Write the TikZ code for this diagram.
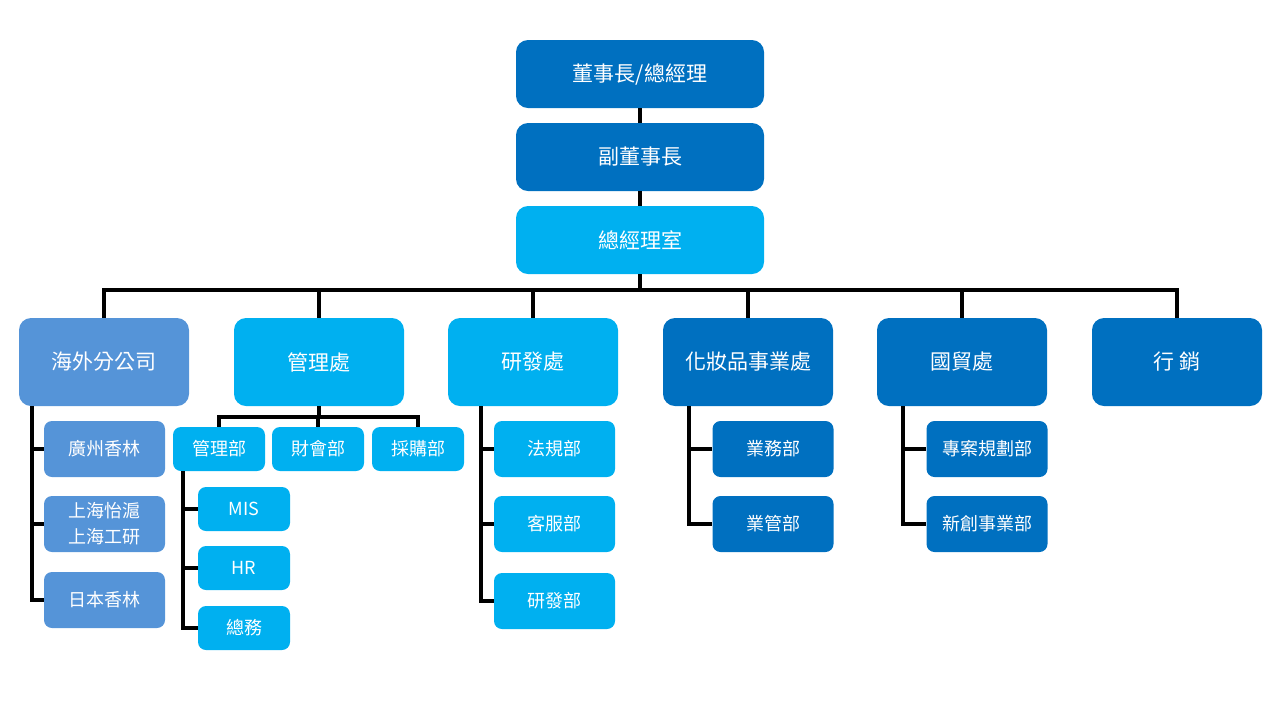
\documentclass[tikz,border=0pt]{standalone}
\usepackage{fontspec}
\setmainfont{Noto Sans CJK TC}
\usepackage{tikz}
\definecolor{DeepBlue}{HTML}{0070C0}
\definecolor{SkyBlue}{HTML}{00B0F0}
\definecolor{MidBlue}{HTML}{5594D8}

\begin{document}
\begin{tikzpicture}[x=0.5pt, y=-0.5pt,
      unit/.style={rounded corners=6pt, text=white, inner sep=0pt,
         align=center, font=\fontsize{10.5}{12}\selectfont},
      big/.style={unit, minimum width=124pt, minimum height=34pt},
      div/.style={unit, minimum width=85pt, minimum height=44pt},
      sub/.style={unit, rounded corners=4pt, minimum width=60.5pt,
         minimum height=28pt, font=\fontsize{9}{13}\selectfont},
      small/.style={sub, minimum width=46pt, minimum height=22pt},
      link/.style={line width=2pt, line join=miter}]
      \useasboundingbox (0,0) rectangle (1280,720);

      % top of the chart
      \node (chair) at (640,74) [big, fill=DeepBlue] {董事長/總經理};
      \node (vice) at (640,157) [big, fill=DeepBlue] {副董事長};
      \node (office) at (640,240) [big, fill=SkyBlue] {總經理室};

      % divisions
      \node (ovs) at (104,362) [div, fill=MidBlue] {海外分公司};
      \node (adm) at (319,362) [div, fill=SkyBlue] {管理處};
      \node (rd) at (533,362) [div, fill=SkyBlue] {研發處};
      \node (cos) at (748,362) [div, fill=DeepBlue] {化妝品事業處};
      \node (trd) at (962,362) [div, fill=DeepBlue] {國貿處};
      \node (mkt) at (1177,362) [div, fill=DeepBlue] {行 銷};

      % departments
      \node (ovs1) at (104.5,449) [sub, fill=MidBlue] {廣州香林};
      \node (ovs2) at (104.5,524) [sub, fill=MidBlue] {上海怡滬\\上海工研};
      \node (ovs3) at (104.5,600) [sub, fill=MidBlue] {日本香林};
      \node (adm1) at (219,449) [small, fill=SkyBlue] {管理部};
      \node (adm2) at (318,449) [small, fill=SkyBlue] {財會部};
      \node (adm3) at (418,449) [small, fill=SkyBlue] {採購部};
      \node (mis) at (244,509) [small, fill=SkyBlue] {MIS};
      \node (hr) at (244,568) [small, fill=SkyBlue] {HR};
      \node (gen) at (244,628) [small, fill=SkyBlue] {總務};
      \node (rd1) at (554.5,449) [sub, fill=SkyBlue] {法規部};
      \node (rd2) at (554.5,524) [sub, fill=SkyBlue] {客服部};
      \node (rd3) at (554.5,601) [sub, fill=SkyBlue] {研發部};
      \node (cos1) at (773,449) [sub, fill=DeepBlue] {業務部};
      \node (cos2) at (773,524) [sub, fill=DeepBlue] {業管部};
      \node (trd1) at (987,449) [sub, fill=DeepBlue] {專案規劃部};
      \node (trd2) at (987,524) [sub, fill=DeepBlue] {新創事業部};

      % lines
      \coordinate (busR) at (1177,290);
      \coordinate (admBus) at (319,417);
      \coordinate (ovsT) at (32,406);
      \coordinate (admT) at (183,471);
      \coordinate (rdT) at (481,406);
      \coordinate (cosT) at (689,406);
      \coordinate (trdT) at (903,406);

      \draw [link] (chair) -- (vice);
      \draw [link] (vice) -- (office);
      \draw [link] (office) -- (office |- busR);
      \draw [link] (ovs.north) |- (busR) -- (mkt.north);
      \foreach \n in {adm,rd,cos,trd}
         \draw [link] (\n) -- (\n |- busR);

      \draw [link] (adm) -- (admBus);
      \draw [link] (adm1.north) |- (admBus) -| (adm3.north);
      \draw [link] (adm2) -- (adm2 |- admBus);

      \draw [link] (ovsT) |- (ovs3.west);
      \draw [link] (admT) |- (gen.west);
      \draw [link] (rdT) |- (rd3.west);
      \draw [link] (cosT) |- (cos2.west);
      \draw [link] (trdT) |- (trd2.west);
      \foreach \c/\t in {ovs1/ovsT, ovs2/ovsT, mis/admT, hr/admT,
            rd1/rdT, rd2/rdT, cos1/cosT, trd1/trdT}
         \draw [link] (\c.west) -- (\c.west -| \t);
   \end{tikzpicture}
\end{document}
